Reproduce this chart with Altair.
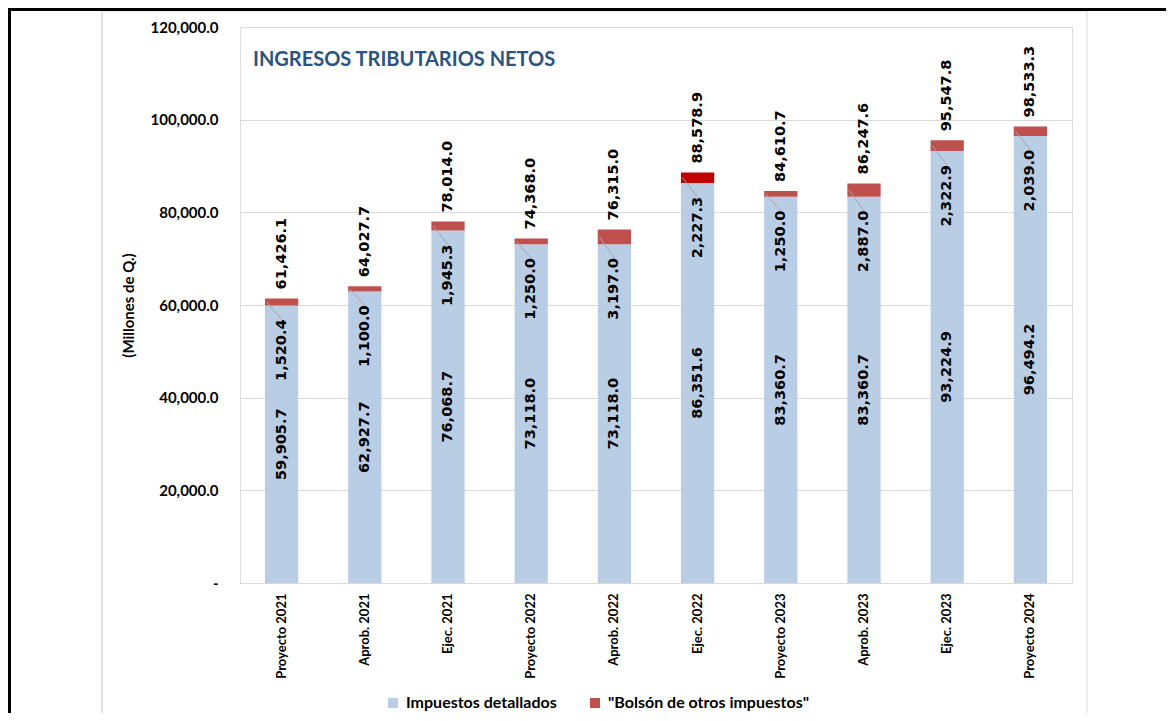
import altair as alt
import pandas as pd

categorias = ["Proyecto 2021", "Aprob. 2021", "Ejec. 2021", "Proyecto 2022", "Aprob. 2022",
              "Ejec. 2022", "Proyecto 2023", "Aprob. 2023", "Ejec. 2023", "Proyecto 2024"]
impuestos_detallados = [59905.7, 62927.7, 76068.7, 73118.0, 73118.0, 86351.6, 83360.7, 83360.7, 93224.9, 96494.2]
bolson_otros = [1520.4, 1100.0, 1945.3, 1250.0, 3197.0, 2227.3, 1250.0, 2887.0, 2322.9, 2039.0]
totales = [61426.1, 64027.7, 78014.0, 74368.0, 76315.0, 88578.9, 84610.7, 86247.6, 95547.8, 98533.3]

SERIE_A = "Impuestos detallados"
SERIE_B = '"Bolsón de otros impuestos"'
SERIE_B2 = "Bolsón Ejec. 2022"

rows = []
for c, d, b in zip(categorias, impuestos_detallados, bolson_otros):
    rows.append(dict(cat=c, key=SERIE_A, y0=0.0, y1=d))
    rows.append(dict(cat=c, key=SERIE_B2 if c == "Ejec. 2022" else SERIE_B, y0=d, y1=d + b))
bars_df = pd.DataFrame(rows)

lab_df = pd.DataFrame({
    "cat": categorias,
    "det": impuestos_detallados,
    "bol": bolson_otros,
    "tot": totales,
})
lab_df["mid"] = lab_df["det"] / 2
lab_df["redmid"] = lab_df["det"] + lab_df["bol"] / 2

FONT = "Lato"
VALFONT = "DejaVu Sans"
VALSIZE = 14.5

x_enc = alt.X("cat:N", sort=categorias,
              scale=alt.Scale(paddingInner=0.6, paddingOuter=0.3),
              axis=alt.Axis(title=None, labelAngle=270, labelAlign="right", labelBaseline="middle",
                            labelPadding=10, ticks=False, domainColor="#D9D9D9", domainWidth=1,
                            labelFont=FONT, labelFontSize=13, labelFontWeight="bold",
                            labelColor="black"))
y_scale = alt.Scale(domain=[0, 120000], nice=False)

bars = alt.Chart(bars_df).mark_bar().encode(
    x=x_enc,
    y=alt.Y("y1:Q", scale=y_scale,
            axis=alt.Axis(values=[0, 20000, 40000, 60000, 80000, 100000, 120000],
                          labelExpr="datum.value == 0 ? '-' : format(datum.value, ',.1f')",
                          grid=True, gridColor="#D9D9D9", domain=False, ticks=False,
                          labelPadding=22, labelFont=FONT, labelFontSize=15,
                          labelFontWeight="bold", labelColor="black",
                          title="(Millones de Q.)", titleFont=FONT, titleFontSize=15,
                          titleFontWeight="bold", titleColor="black",
                          titleX=-112, titleY=278, titleBaseline="middle")),
    y2="y0:Q",
    color=alt.Color("key:N",
                    scale=alt.Scale(domain=[SERIE_A, SERIE_B, SERIE_B2],
                                    range=["#B9CDE5", "#C0504D", "#C00000"]),
                    legend=alt.Legend(values=[SERIE_A, SERIE_B], title=None, orient="none",
                                      legendX=145, legendY=668, direction="horizontal",
                                      symbolType="square", symbolSize=100, symbolStrokeWidth=0,
                                      labelFont=FONT, labelFontSize=16, labelFontWeight="bold",
                                      labelColor="black", labelLimit=0, columnPadding=30,
                                      labelOffset=5)),
)

leaders = alt.Chart(lab_df).mark_rule(color="#A6A6A6", strokeWidth=1, xOffset=-15, x2Offset=0,
                                       y2Offset=14).encode(
    x=alt.X("cat:N", sort=categorias),
    x2=alt.X2("cat"),
    y=alt.Y("redmid:Q", scale=y_scale),
    y2=alt.Y2("det:Q"),
)

txt_det = alt.Chart(lab_df).mark_text(angle=270, align="center", baseline="middle",
                                      font=VALFONT, fontSize=VALSIZE, fontWeight="bold",
                                      color="black").encode(
    x=alt.X("cat:N", sort=categorias),
    y=alt.Y("mid:Q", scale=y_scale),
    text=alt.Text("det:Q", format=",.1f"),
)
txt_bol = alt.Chart(lab_df).mark_text(angle=270, align="right", baseline="middle", dx=-14,
                                      font=VALFONT, fontSize=VALSIZE, fontWeight="bold",
                                      color="black").encode(
    x=alt.X("cat:N", sort=categorias),
    y=alt.Y("det:Q", scale=y_scale),
    text=alt.Text("bol:Q", format=",.1f"),
)
txt_tot = alt.Chart(lab_df).mark_text(angle=270, align="left", baseline="middle", dx=9,
                                      font=VALFONT, fontSize=VALSIZE, fontWeight="bold",
                                      color="black").encode(
    x=alt.X("cat:N", sort=categorias),
    y=alt.Y("tot:Q", scale=y_scale),
    text=alt.Text("tot:Q", format=",.1f"),
)

one = pd.DataFrame({"a": [0]})
subtitle = alt.Chart(one).mark_text(align="left", baseline="middle", font=FONT, fontSize=20,
                                    fontWeight="bold", color="#2B5383").encode(
    x=alt.value(13), y=alt.value(33), text=alt.value("INGRESOS TRIBUTARIOS NETOS"))

gray = "#D9D9D9"
frame_left = alt.Chart(one).mark_rule(color=gray, strokeWidth=1.5).encode(
    x=alt.value(-138), y=alt.value(-16), y2=alt.value(720))
frame_top = alt.Chart(one).mark_rule(color=gray, strokeWidth=1).encode(
    x=alt.value(-138), x2=alt.value(847), y=alt.value(-16))
frame_right = alt.Chart(one).mark_rule(color=gray, strokeWidth=1).encode(
    x=alt.value(847), y=alt.value(-16), y2=alt.value(720))
black_top = alt.Chart(one).mark_rule(color="black", strokeWidth=3).encode(
    x=alt.value(-240), x2=alt.value(930), y=alt.value(-17.5))
black_left = alt.Chart(one).mark_rule(color="black", strokeWidth=3).encode(
    x=alt.value(-230.5), y=alt.value(-19), y2=alt.value(720))

chart = alt.layer(
    frame_left, frame_top, frame_right, black_top, black_left,
    bars, leaders, txt_det, txt_bol, txt_tot, subtitle
).properties(
    width=832, height=556,
    autosize=alt.AutoSizeParams(type="none"),
    padding={"left": 232, "top": 19, "right": 94, "bottom": 130},
).configure_view(stroke=None).configure(background="white")

chart.save("out.html", embed_options={"renderer": "svg", "actions": False})
